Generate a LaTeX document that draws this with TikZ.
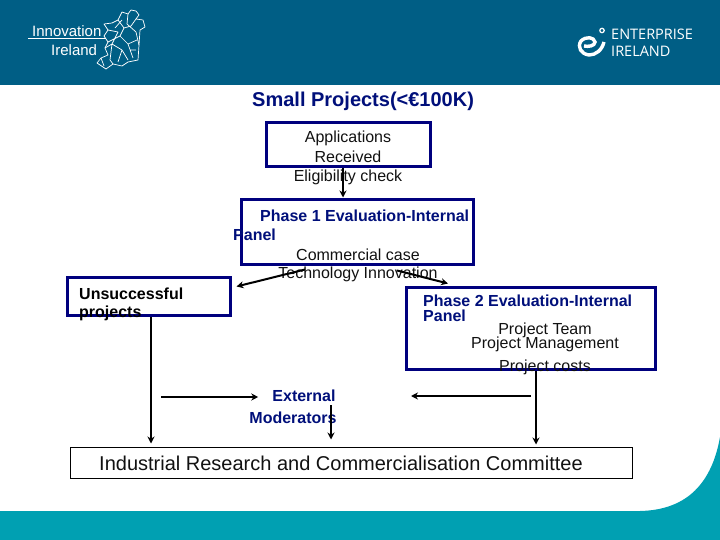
\documentclass[tikz,border=0pt]{standalone}
\usepackage{fontspec}
\setmainfont{Liberation Sans}
\newfontfamily\logofont{Open Sans}
\usetikzlibrary{arrows.meta,calc}
\definecolor{hdr}{HTML}{005E85}
\definecolor{teal}{HTML}{00A0B2}
\definecolor{navy}{HTML}{000F7A}
\definecolor{boxnavy}{HTML}{00007E}
\definecolor{txt}{HTML}{111111}
\tikzset{
  bluebox/.style={draw=boxnavy,line width=3pt,inner sep=0pt},
  thinbox/.style={draw=black,line width=1pt,inner sep=0pt},
  body/.style={inner sep=0pt,text=txt,font=\fontsize{16}{16}\selectfont},
  head/.style={inner sep=0pt,text=navy,font=\fontsize{16}{16}\selectfont\bfseries},
  conn/.style={draw=black,line width=2pt,-{Stealth[length=7pt,width=7pt]}},
  logoline/.style={draw=white,line width=0.7pt,line join=round},
}
\begin{document}
\begin{tikzpicture}[x=1pt,y=-1pt]
\useasboundingbox (0,0) rectangle (720,540);
% bands
\fill[hdr] (0,0) rectangle (720,85);
\fill[teal] (0,511) -- (640,511) .. controls (688,510) and (712,482) .. (720,437) -- (720,540) -- (0,540) -- cycle;
% left logo
\node[inner sep=0pt,anchor=west,text=white,font=\fontsize{15}{15}\selectfont] (logoa) at (32,31) {Innovation};
\node[inner sep=0pt,anchor=west,text=white,font=\fontsize{15}{15}\selectfont] (logob) at (51,50) {Ireland};
\coordinate (la) at (28,38);
\coordinate (lb) at (106,38);
\draw[logoline] (la) -- (lb);
\draw[logoline] (118,20) -- (122,12) -- (128,14) -- (131,10) -- (136,11) -- (139,15) -- (136,19) -- (143,20) -- (145,27) -- (140,30) -- (139,45) -- (138,60) -- (128,62) -- (122,66) -- (113,64) -- (106,69) -- (97,63) -- (101,58) -- (108,55) -- (105,48) -- (108,42) -- (104,36) -- (108,30) -- (104,24) -- (112,23) -- (118,20);
\draw[logoline] (118,20) -- (124,28) -- (120,36) -- (128,44) -- (133,58) (128,14) -- (127,24) -- (136,32) -- (139,45) (108,30) -- (118,32) -- (112,44) -- (122,50) -- (118,62) (108,42) -- (120,36) (105,48) -- (112,44) -- (110,60) -- (113,64) (136,19) -- (131,26) -- (124,28) (128,44) -- (137,40) (122,50) -- (128,60) (101,58) -- (104,66) (115,28) -- (122,20) (130,50) -- (136,50);
% right logo
\node[inner sep=0pt,anchor=west,text=white,font=\logofont\fontsize{14.5}{14.5}\selectfont] (ea) at (611,34) {ENTERPRISE};
\node[inner sep=0pt,anchor=west,text=white,font=\logofont\fontsize{14.5}{14.5}\selectfont] (eb) at (611,51) {IRELAND};
\draw[white,line width=3.6pt] (592,44) arc (40:-0:0) ;
\draw[white,line width=3.4pt] (584,46) .. controls (588,47) and (595,46) .. (595,42) .. controls (594,37) and (586,36) .. (581,41) .. controls (577,47) and (581,54) .. (589,55) .. controls (596,55) and (602,50) .. (604,42);
\draw[white,line width=1.2pt] (602,30.5) circle (2.2);
% title
\node[inner sep=0pt,anchor=west,text=navy,font=\fontsize{20}{20}\selectfont\bfseries] (title) at (252,101) {Small Projects(<€100K)};
% boxes
\node[bluebox,minimum width=164pt,minimum height=44pt] (app) at (348,145) {};
\node[bluebox,minimum width=232pt,minimum height=64pt] (ph1) at (357,232) {};
\node[bluebox,minimum width=163pt,minimum height=38pt] (uns) at (148.5,296) {};
\node[bluebox,minimum width=249pt,minimum height=82pt] (ph2) at (530.5,328) {};
\node[thinbox,minimum width=562pt,minimum height=31pt] (com) at (351,462.5) {};
% texts
\node[body] (t1) at (348,138) {Applications};
\node[body] (t2) at (348,157) {Received};
\node[body] (t3) at (348,177) {Eligibility check};
\node[head,anchor=west] (t4) at (260,216) {Phase 1 Evaluation-Internal};
\node[head,anchor=west] (t5) at (233,235) {Panel};
\node[body] (t6) at (358,255) {Commercial case};
\node[body] (t7) at (358,274) {Technology Innovation};
\node[head,anchor=west,text=black] (t8) at (79,294) {Unsuccessful};
\node[head,anchor=west,text=black] (t9) at (79,313) {projects};
\node[head,anchor=west] (t10) at (423,301) {Phase 2 Evaluation-Internal};
\node[head,anchor=west] (t11) at (423,316) {Panel};
\node[body] (t12) at (545,330) {Project Team};
\node[body] (t13) at (545,344) {Project Management};
\node[body] (t14) at (545,367) {Project costs};
\node[head] (ext) at (304,396) {External};
\node[head] (mod) at (293,418) {Moderators};
\node[inner sep=0pt,anchor=west,text=txt,font=\fontsize{20}{20}\selectfont] (t15) at (99,463) {Industrial Research and Commercialisation Committee};
% free ends
\coordinate (c1) at (161,397);
\coordinate (c2) at (531,396);
\coordinate (c3) at (411,396);
\coordinate (c4) at (331,405);
% connectors
\draw[conn] ($(app.south)+(-5,0)$) -- ($(ph1.north)+(-14,-1)$);
\draw[conn] ($(ph1.south)+(-52,4)$) -- ($(uns.north east)+(5,11)$);
\draw[conn] ($(ph1.south)+(40,5)$) -- ($(ph2.north)+(-82.5,-2)$);
\draw[conn] ($(uns.south)+(2.5,0)$) -- ($(com.north)+(-200,-3)$);
\draw[conn] (c1) -- ($(ext.west)+(-14,1)$);
\draw[conn] (c4) -- ($(com.north)+(-20,-7)$);
\draw[conn] ($(ph2.south)+(5.5,0)$) -- ($(com.north)+(185,-2)$);
\draw[conn] (c2) -- (c3);
\end{tikzpicture}
\end{document}
